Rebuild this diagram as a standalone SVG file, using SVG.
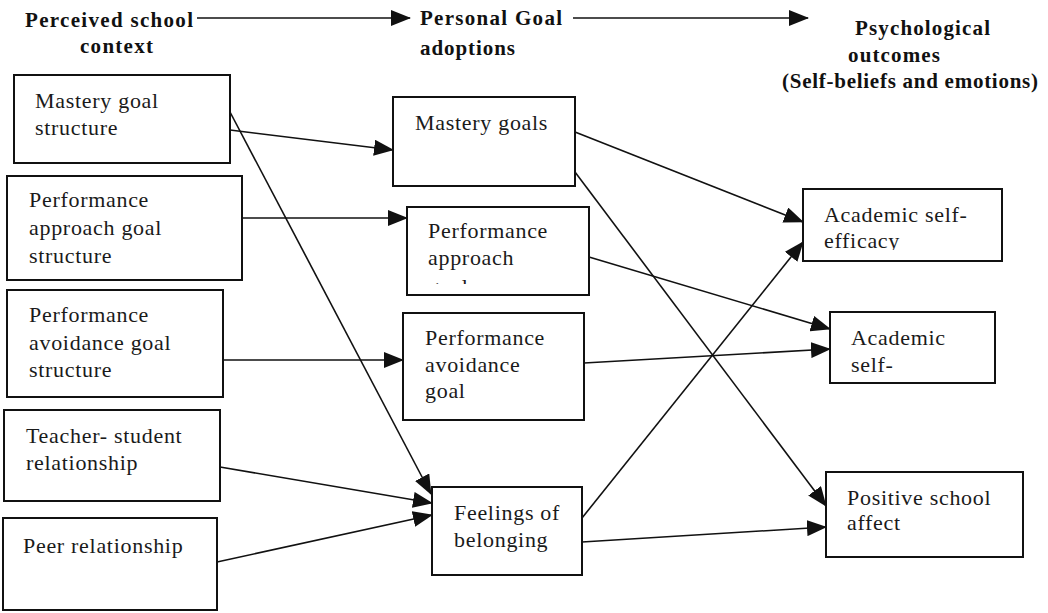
<svg xmlns="http://www.w3.org/2000/svg" width="1048" height="613" viewBox="0 0 1048 613">
<style>
.box{fill:#fff;stroke:#111;stroke-width:2}
.t{font-family:"Liberation Serif","Times New Roman",serif;font-size:22px;letter-spacing:0.7px;fill:#1a1a1a}
.h{font-family:"Liberation Serif","Times New Roman",serif;font-size:21px;font-weight:bold;fill:#111}
.c{stroke:#111;stroke-width:1.6;fill:none;marker-end:url(#ah)}
</style>
<defs>
<marker id="ah" viewBox="0 0 20 16" refX="19" refY="8" markerWidth="20" markerHeight="16" markerUnits="userSpaceOnUse" orient="auto">
<path d="M0,0 L20,8 L0,16 z" fill="#111"/>
</marker>
<clipPath id="clipGoals"><rect x="407" y="207" width="182" height="77"/></clipPath>
<clipPath id="clipEff"><rect x="803" y="189" width="199" height="61"/></clipPath>
</defs>

<g id="headers">
<text class="h" x="25" y="27" textLength="168" lengthAdjust="spacing">Perceived school</text>
<text class="h" x="80" y="53" textLength="73" lengthAdjust="spacing">context</text>
<text class="h" x="420" y="25" textLength="142" lengthAdjust="spacing">Personal Goal</text>
<text class="h" x="420" y="55" textLength="95" lengthAdjust="spacing">adoptions</text>
<text class="h" x="855" y="35" textLength="135" lengthAdjust="spacing">Psychological</text>
<text class="h" x="848" y="62" textLength="92" lengthAdjust="spacing">outcomes</text>
<text class="h" x="782" y="88" textLength="256" lengthAdjust="spacing">(Self-beliefs and emotions)</text>
</g>

<g id="connectors">
<line class="c" x1="197" y1="18" x2="410" y2="18"/>
<line class="c" x1="573" y1="18" x2="808" y2="18"/>
<line class="c" x1="230" y1="130" x2="393" y2="150"/>
<line class="c" x1="230" y1="112" x2="431" y2="494"/>
<line class="c" x1="242" y1="218" x2="407" y2="218"/>
<line class="c" x1="223" y1="360" x2="403" y2="360"/>
<line class="c" x1="220" y1="467" x2="432" y2="503"/>
<line class="c" x1="217" y1="562" x2="432" y2="515"/>
<line class="c" x1="575" y1="132" x2="803" y2="222"/>
<line class="c" x1="575" y1="172" x2="826" y2="506"/>
<line class="c" x1="589" y1="257" x2="830" y2="329"/>
<line class="c" x1="584" y1="363" x2="830" y2="349"/>
<line class="c" x1="582" y1="518" x2="803" y2="242"/>
<line class="c" x1="582" y1="542" x2="826" y2="527"/>
</g>

<g id="n-mastery-structure">
<rect class="box" x="14" y="75" width="216" height="88"/>
<text class="t" x="35" y="108">Mastery goal</text>
<text class="t" x="35" y="135">structure</text>
</g>
<g id="n-perf-approach-structure">
<rect class="box" x="7" y="176" width="235" height="104"/>
<text class="t" x="29" y="207">Performance</text>
<text class="t" x="29" y="235">approach goal</text>
<text class="t" x="29" y="263">structure</text>
</g>
<g id="n-perf-avoid-structure">
<rect class="box" x="7" y="290" width="216" height="107"/>
<text class="t" x="29" y="322">Performance</text>
<text class="t" x="29" y="350">avoidance goal</text>
<text class="t" x="29" y="377">structure</text>
</g>
<g id="n-teacher-student">
<rect class="box" x="4" y="410" width="216" height="91"/>
<text class="t" x="26" y="443">Teacher- student</text>
<text class="t" x="26" y="470">relationship</text>
</g>
<g id="n-peer">
<rect class="box" x="3" y="518" width="214" height="92"/>
<text class="t" x="23" y="553">Peer relationship</text>
</g>

<g id="n-mastery-goals">
<rect class="box" x="393" y="97" width="182" height="89"/>
<text class="t" x="415" y="130">Mastery goals</text>
</g>
<g id="n-perf-approach-goals">
<rect class="box" x="407" y="207" width="182" height="88"/>
<text class="t" x="428" y="238">Performance</text>
<text class="t" x="428" y="265">approach</text>
<text class="t" x="428" y="294" clip-path="url(#clipGoals)">goals</text>
</g>
<g id="n-perf-avoid-goal">
<rect class="box" x="403" y="313" width="181" height="107"/>
<text class="t" x="425" y="345">Performance</text>
<text class="t" x="425" y="372">avoidance</text>
<text class="t" x="425" y="398">goal</text>
</g>
<g id="n-belonging">
<rect class="box" x="432" y="487" width="150" height="88"/>
<text class="t" x="454" y="520">Feelings of</text>
<text class="t" x="454" y="547">belonging</text>
</g>

<g id="n-self-efficacy">
<rect class="box" x="803" y="189" width="199" height="72"/>
<text class="t" x="824" y="222">Academic self-</text>
<text class="t" x="824" y="248" clip-path="url(#clipEff)">efficacy</text>
</g>
<g id="n-self-concept">
<rect class="box" x="830" y="312" width="165" height="71"/>
<text class="t" x="851" y="345">Academic</text>
<text class="t" x="851" y="372">self-</text>
</g>
<g id="n-positive-affect">
<rect class="box" x="826" y="472" width="197" height="85"/>
<text class="t" x="847" y="505">Positive school</text>
<text class="t" x="847" y="530">affect</text>
</g>
</svg>
